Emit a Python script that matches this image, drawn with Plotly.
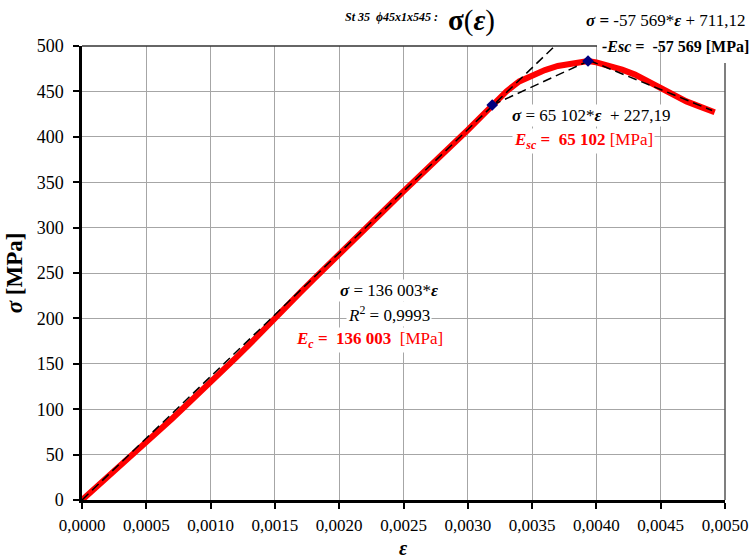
import plotly.graph_objects as go

# ---- data ----
strain = [0.0, 0.0001, 0.0002, 0.0003, 0.0004, 0.0005, 0.0006, 0.0007, 0.0008, 0.0009,
          0.0010, 0.0011, 0.0012, 0.0013, 0.0014, 0.0015, 0.0016, 0.0017, 0.0018, 0.0019,
          0.0020, 0.0021, 0.0022, 0.0023, 0.0024, 0.0025, 0.0026, 0.0027, 0.0028, 0.0029,
          0.0030, 0.0031, 0.0032, 0.0033, 0.0034, 0.0035, 0.0036, 0.0037, 0.0038, 0.0039,
          0.003935, 0.0040, 0.0041, 0.0042, 0.0043, 0.0044, 0.0045, 0.0046, 0.0047, 0.0048,
          0.0049, 0.00492]
stress = [0.0, 12.5, 25.0, 38.0, 50.5, 63.0, 76.0, 89.5, 103.0, 116.0,
          129.5, 143.0, 157.0, 171.0, 186.0, 200.0, 215.0, 229.0, 243.0, 256.5,
          270.0, 284.0, 298.0, 312.0, 326.0, 340.0, 353.0, 367.0, 380.5, 394.0,
          407.5, 421.0, 435.5, 450.0, 461.0, 468.0, 473.5, 478.0, 481.0, 483.0,
          483.5, 482.0, 478.5, 474.0, 468.5, 461.0, 452.5, 445.0, 439.0, 433.5,
          428.0, 427.0]

# regression lines (slope, intercept, strain range)
lin_Ec = (136003, 0.0, 0.0, 0.003676)
lin_Esc = (65102, 227.19, 0.00319, 0.003945)
lin_neg = (-57569, 711.12, 0.003945, 0.0049)

# special points
pts_strain = [0.00319, 0.003935]
pts_stress = [435.0, 483.5]

x_ticks = [0.0, 0.0005, 0.0010, 0.0015, 0.0020, 0.0025, 0.0030, 0.0035, 0.0040, 0.0045, 0.0050]
x_ticktext = ["0,0000", "0,0005", "0,0010", "0,0015", "0,0020", "0,0025",
              "0,0030", "0,0035", "0,0040", "0,0045", "0,0050"]
y_ticks = [0, 50, 100, 150, 200, 250, 300, 350, 400, 450, 500]

FONT = "Liberation Serif"
SP = "&nbsp;"

# plot-area geometry in pixels
L, R, T, B = 82, 725, 46, 500
W, H = 751, 560


def px(xp):
    return (xp - L) / (R - L)


def py(yp):
    return (B - yp) / (B - T)


fig = go.Figure()

fig.add_trace(go.Scatter(x=strain, y=stress, mode="lines",
                         line=dict(color="#FF0000", width=6), showlegend=False))

for k, b, x0, x1 in (lin_Ec, lin_Esc, lin_neg):
    fig.add_trace(go.Scatter(x=[x0, x1], y=[k * x0 + b, k * x1 + b], mode="lines",
                             line=dict(color="black", width=1.5, dash="9px,5px"),
                             showlegend=False))

fig.add_trace(go.Scatter(x=pts_strain, y=pts_stress, mode="markers",
                         marker=dict(symbol="diamond", size=9, color="#00007F"),
                         showlegend=False))

# plot area border (top and right, partially hidden by the label box)
fig.add_shape(type="line", xref="paper", yref="paper", x0=0, x1=px(597), y0=1, y1=1,
              line=dict(color="#333333", width=1.5))
fig.add_shape(type="line", xref="paper", yref="paper", x0=1, x1=1, y0=0, y1=py(63),
              line=dict(color="#555555", width=1.5))


def ann(text, xc, yc, size=17, color="black", bg=None, pad=1):
    fig.add_annotation(text=text, xref="paper", yref="paper", x=px(xc), y=py(yc),
                       xanchor="center", yanchor="middle", showarrow=False,
                       font=dict(family=FONT, size=size, color=color),
                       bgcolor=bg, borderpad=pad)


ann("<b><i>St 35  ϕ45x1x545 :</i></b>", 391, 17, size=12)
ann("<b>σ</b>(<b><i>ε</i></b>)", 471, 20, size=29)
ann("<b><i>σ</i> =</b> -57 569*<b><i>ε</i></b>" + SP + "+ 711,12", 665, 20, size=17)
ann("<b><i>-Esc =</i>" + SP + " -57 569 [MPa]</b>", 675, 46, size=16)
ann("<b><i>σ</i></b>" + SP + "= 65 102*<b><i>ε</i></b>" + SP * 2 + "+ 227,19",
    591, 116, size=17, bg="white")
ann("<b><i>E</i><sub><i>sc</i></sub>" + SP + "=" + SP + " 65 102</b> [MPa]", 583, 141,
    size=17, color="#FF0000", bg="white")
ann("<b><i>σ</i></b>" + SP + "= 136 003*<b><i>ε</i></b>", 389, 290, size=17, bg="white")
ann("<i>R</i><sup>2</sup>" + SP + "= 0,9993", 389, 314, size=17, bg="white")
ann("<b><i>E</i><sub><i>c</i></sub>" + SP + "=" + SP + " 136 003</b>" + SP * 2 + "[MPa]",
    369, 340, size=17, color="#FF0000", bg="white")
# x-axis title
ann("<b><i>ε</i></b>", 403, 548, size=20, pad=0)

fig.update_layout(
    width=W, height=H,
    margin=dict(l=L, r=W - R, t=T, b=H - B, pad=0),
    plot_bgcolor="white", paper_bgcolor="white",
    font=dict(family=FONT, size=17, color="black"),
    xaxis=dict(range=[0, 0.005], tickvals=x_ticks, ticktext=x_ticktext,
               showgrid=True, gridcolor="#A6A6A6", gridwidth=1,
               showline=True, linecolor="black", linewidth=2.5,
               ticks="outside", ticklen=6, tickwidth=2, tickcolor="black",
               ticklabelstandoff=2, zeroline=False, automargin=False,
               tickfont=dict(size=17)),
    yaxis=dict(range=[0, 500], tickvals=y_ticks,
               showgrid=True, gridcolor="#A6A6A6", gridwidth=1,
               showline=True, linecolor="black", linewidth=2.5,
               ticks="outside", ticklen=6, tickwidth=2, tickcolor="black",
               ticklabelstandoff=6, zeroline=False, automargin=False,
               tickfont=dict(size=18),
               title=dict(text="<b><i>σ</i> [MPa]</b>", font=dict(size=23), standoff=8)),
)

fig.write_html("out.html")
